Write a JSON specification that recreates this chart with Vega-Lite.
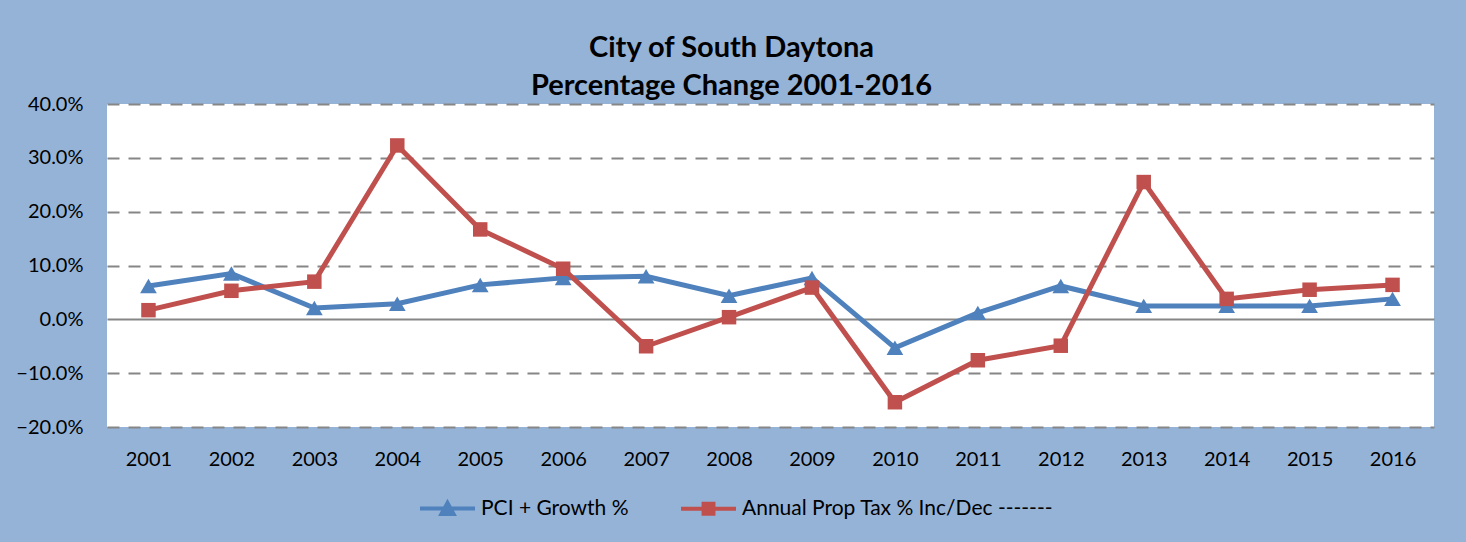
{
  "$schema": "https://vega.github.io/schema/vega-lite/v6.json",
  "width": 1327,
  "height": 323,
  "autosize": {"type": "none"},
  "padding": {"left": 107, "top": 104, "right": 32, "bottom": 115},
  "background": "#95B3D7",
  "title": {
    "text": ["City of South Daytona", "Percentage Change 2001-2016"],
    "font": "Lato",
    "fontSize": 29,
    "fontWeight": "bold",
    "color": "#000000",
    "lineHeight": 38,
    "anchor": "middle",
    "dx": -39,
    "offset": -7
  },
  "config": {
    "view": {"stroke": null, "fill": "#FFFFFF"},
    "font": "Lato"
  },
  "data": {
    "values": [
      {"year": "2001", "series": "PCI + Growth %", "value": 0.062},
      {"year": "2002", "series": "PCI + Growth %", "value": 0.085},
      {"year": "2003", "series": "PCI + Growth %", "value": 0.021},
      {"year": "2004", "series": "PCI + Growth %", "value": 0.029},
      {"year": "2005", "series": "PCI + Growth %", "value": 0.064},
      {"year": "2006", "series": "PCI + Growth %", "value": 0.077},
      {"year": "2007", "series": "PCI + Growth %", "value": 0.080},
      {"year": "2008", "series": "PCI + Growth %", "value": 0.044},
      {"year": "2009", "series": "PCI + Growth %", "value": 0.077},
      {"year": "2010", "series": "PCI + Growth %", "value": -0.053},
      {"year": "2011", "series": "PCI + Growth %", "value": 0.012},
      {"year": "2012", "series": "PCI + Growth %", "value": 0.062},
      {"year": "2013", "series": "PCI + Growth %", "value": 0.025},
      {"year": "2014", "series": "PCI + Growth %", "value": 0.025},
      {"year": "2015", "series": "PCI + Growth %", "value": 0.025},
      {"year": "2016", "series": "PCI + Growth %", "value": 0.038},
      {"year": "2001", "series": "Annual Prop Tax % Inc/Dec -------", "value": 0.017},
      {"year": "2002", "series": "Annual Prop Tax % Inc/Dec -------", "value": 0.053},
      {"year": "2003", "series": "Annual Prop Tax % Inc/Dec -------", "value": 0.070},
      {"year": "2004", "series": "Annual Prop Tax % Inc/Dec -------", "value": 0.323},
      {"year": "2005", "series": "Annual Prop Tax % Inc/Dec -------", "value": 0.167},
      {"year": "2006", "series": "Annual Prop Tax % Inc/Dec -------", "value": 0.094},
      {"year": "2007", "series": "Annual Prop Tax % Inc/Dec -------", "value": -0.050},
      {"year": "2008", "series": "Annual Prop Tax % Inc/Dec -------", "value": 0.004},
      {"year": "2009", "series": "Annual Prop Tax % Inc/Dec -------", "value": 0.059},
      {"year": "2010", "series": "Annual Prop Tax % Inc/Dec -------", "value": -0.154},
      {"year": "2011", "series": "Annual Prop Tax % Inc/Dec -------", "value": -0.076},
      {"year": "2012", "series": "Annual Prop Tax % Inc/Dec -------", "value": -0.049},
      {"year": "2013", "series": "Annual Prop Tax % Inc/Dec -------", "value": 0.255},
      {"year": "2014", "series": "Annual Prop Tax % Inc/Dec -------", "value": 0.038},
      {"year": "2015", "series": "Annual Prop Tax % Inc/Dec -------", "value": 0.055},
      {"year": "2016", "series": "Annual Prop Tax % Inc/Dec -------", "value": 0.064}
    ]
  },
  "encoding": {
    "x": {
      "field": "year",
      "type": "ordinal",
      "scale": {"type": "point", "padding": 0.5},
      "axis": {
        "title": null,
        "labelAngle": 0,
        "labelFont": "Lato",
        "labelFontSize": 20,
        "labelColor": "#000000",
        "labelPadding": 22,
        "ticks": false,
        "domain": false,
        "grid": false
      }
    },
    "y": {
      "field": "value",
      "type": "quantitative",
      "scale": {"domain": [-0.2, 0.4], "nice": false, "zero": false},
      "axis": {
        "title": null,
        "format": ".1%",
        "values": [-0.2, -0.1, 0, 0.1, 0.2, 0.3, 0.4],
        "labelFont": "Lato",
        "labelFontSize": 20,
        "labelColor": "#000000",
        "labelPadding": 24,
        "ticks": false,
        "domain": false,
        "grid": true,
        "gridColor": "#868686",
        "gridWidth": 2,
        "gridDash": {"condition": {"test": "datum.value === 0", "value": []}, "value": [12, 9]}
      }
    },
    "color": {
      "field": "series",
      "type": "nominal",
      "sort": ["PCI + Growth %", "Annual Prop Tax % Inc/Dec -------"],
      "scale": {
        "domain": ["PCI + Growth %", "Annual Prop Tax % Inc/Dec -------"],
        "range": ["#4F81BD", "#C0504D"]
      },
      "legend": {
        "title": null,
        "orient": "none",
        "direction": "horizontal",
        "legendX": 311,
        "legendY": 375,
        "labelFont": "Lato",
        "labelFontSize": 21,
        "labelColor": "#000000",
        "labelLimit": 0,
        "labelOffset": 4,
        "columnPadding": 44,
        "symbolSize": 3025,
        "symbolStrokeWidth": 4,
        "encode": {
          "symbols": {
            "update": {
              "shape": {"signal": "datum.value === 'PCI + Growth %' ? 'M-1,0H1M-0.22,0.2L0,-0.2L0.22,0.2Z' : 'M-1,0H1M-0.18,-0.18H0.18V0.18H-0.18Z'"},
              "fill": {"scale": "color", "field": "value"},
              "stroke": {"scale": "color", "field": "value"},
              "strokeWidth": {"value": 4},
              "opacity": {"value": 1}
            }
          }
        }
      }
    }
  },
  "layer": [
    {
      "mark": {"type": "line", "strokeWidth": 5}
    },
    {
      "transform": [{"filter": "datum.series === 'PCI + Growth %'"}],
      "mark": {"type": "point", "filled": true, "size": 280, "opacity": 1, "shape": "triangle-up"}
    },
    {
      "transform": [{"filter": "datum.series !== 'PCI + Growth %'"}],
      "mark": {"type": "point", "filled": true, "size": 210, "opacity": 1, "shape": "square"}
    }
  ]
}
